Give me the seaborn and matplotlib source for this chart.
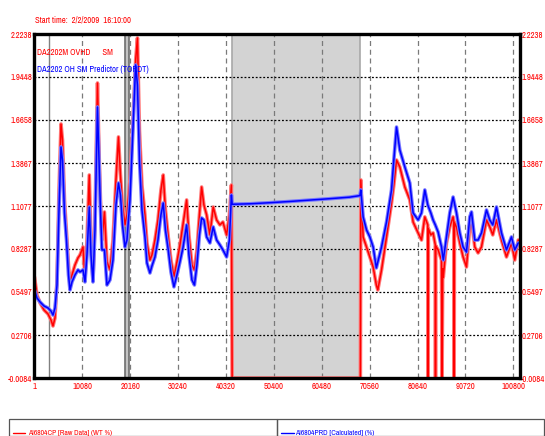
import numpy as np
import pandas as pd
import matplotlib
matplotlib.use("Agg")
import matplotlib.pyplot as plt
import seaborn as sns
from matplotlib.patches import Rectangle
from matplotlib.lines import Line2D

# ---------------- data ----------------
title_text = "Start time:  2/2/2009  16:10:00"
series_red_name = "DA2202M OVHD      SM"
series_blue_name = "DA2202 OH SM Predictor (TOPDT)"
legend_red = "AI6804CP [Raw Data] (WT %)"
legend_blue = "AI6804PRD [Calculated] (%)"

x_ticks = [1, 10080, 20160, 30240, 40320, 50400, 60480, 70560, 80640, 90720, 100800]
y_ticks = [-0.0084, 0.2706, 0.5497, 0.8287, 1.1077, 1.3867, 1.6658, 1.9448, 2.2238]
y_tick_labels = ["-0.0084", "0.2706", "0.5497", "0.8287", "1.1077", "1.3867", "1.6658", "1.9448", "2.2238"]

gap_start, gap_end = 41600, 68600          # shaded no-data period
marker_line = 2990                          # thin gray event line
marker_band = (19063, 19946)                # gray event band

red_x = [1, 526, 1157, 1999, 2840, 3472, 3892, 4313, 4734, 5155, 5576, 5891, 6312, 6733, 7154,
         7469, 7890, 8517, 9152, 9573, 10204, 10625, 11046, 11530, 11888, 12308, 12729, 13255,
         13571, 13886, 14202, 14728, 15254, 15885, 16516, 17147, 17674, 18094, 18515, 19041,
         19462, 20093, 20724, 21292, 21671, 22092, 22618, 23249, 23670, 24301, 24722, 25353,
         25984, 26616, 27099, 27562, 28152, 28720, 29351, 29982, 30613, 31244, 32023, 32507,
         33138, 33664, 34190, 34716, 35179, 35663, 36231, 36925, 37620, 38335, 39029, 39660,
         40439, 41028, 41449, 41600, 68600, 68695, 69179, 69894, 70589, 71283, 71957, 72272,
         73051, 74103, 75155, 75639, 76207, 76901, 77953, 79005, 79700, 80752, 81467, 82161,
         82792, 82856, 82919, 83424, 83908, 84370, 84412, 84455, 84960, 85675, 85801, 85930,
         86054, 86727, 87421, 88116, 88300, 88340, 88400, 88831, 89525, 90220, 90935, 91629,
         91987, 92681, 93375, 94091, 95143, 95837, 96469, 97247, 98299, 99351, 100403, 101097,
         101834]
red_y = [0.647, 0.530, 0.479, 0.433, 0.407, 0.368, 0.329, 0.381, 0.627, 1.212, 1.640, 1.536,
         1.147, 0.933, 0.725, 0.595, 0.660, 0.725, 0.771, 0.790, 0.842, 0.641, 0.887, 1.309,
         0.887, 0.628, 1.017, 1.906, 1.471, 1.147, 0.887, 1.069, 0.745, 0.693, 0.887, 1.277,
         1.556, 1.309, 1.114, 0.985, 1.050, 1.277, 1.666, 2.055, 2.198, 1.601, 1.244, 1.050,
         0.868, 0.757, 0.790, 0.887, 1.017, 1.212, 1.309, 1.082, 0.907, 0.757, 0.647, 0.745,
         0.855, 0.985, 1.147, 0.920, 0.725, 0.693, 0.823, 1.050, 1.231, 1.114, 1.050, 0.920,
         1.101, 1.017, 0.985, 1.004, 0.920, 1.050, 1.244, -0.0084, -0.0084, 1.277, 0.907,
         0.842, 0.777, 0.712, 0.595, 0.563, 0.693, 0.907, 1.127, 1.244, 1.406, 1.361, 1.231,
         1.147, 1.004, 0.933, 0.887, 1.037, 0.985, -0.0084, 0.960, 0.920, 0.933, 0.855,
         -0.0084, 0.850, 0.823, 0.757, -0.0084, 0.700, 0.647, 0.868, 0.972, 1.037, 1.000,
         -0.0084, 1.000, 0.972, 0.868, 0.777, 0.712, 0.972, 1.017, 0.842, 0.803, 0.842, 1.017,
         0.972, 0.920, 1.017, 0.887, 0.777, 0.868, 0.757, 0.887]

blue_x = [1, 526, 1157, 1999, 2840, 3472, 3892, 4313, 4734, 5155, 5576, 5891, 6312, 6733, 7154,
          7469, 7890, 8517, 9152, 9573, 10204, 10625, 11046, 11530, 11888, 12308, 12729, 13255,
          13571, 13886, 14202, 14728, 15254, 15885, 16516, 17147, 17674, 18094, 18515, 19041,
          19462, 20093, 20724, 21292, 21671, 22092, 22618, 23249, 23670, 24301, 24722, 25353,
          25984, 26616, 27099, 27562, 28152, 28720, 29351, 29982, 30613, 31244, 32023, 32507,
          33138, 33664, 34190, 34716, 35179, 35663, 36231, 36925, 37620, 38335, 39029, 39660,
          40439, 41028, 41449, 41617, 45341, 49500, 53700, 57900, 62100, 66300, 68500, 68695,
          69179, 69894, 70589, 71283, 71957, 72272, 73051, 74103, 75155, 75639, 76207, 76901,
          77953, 79005, 79700, 80752, 81467, 82161, 82792, 83424, 83908, 84370, 84960, 85675,
          86054, 86727, 87421, 88116, 88831, 89525, 90220, 90935, 91629, 91987, 92681, 93375,
          94091, 95143, 95837, 96469, 97247, 98299, 99351, 100403, 101097, 101834]
blue_y = [0.563, 0.511, 0.485, 0.459, 0.446, 0.426, 0.400, 0.446, 0.595, 1.082, 1.491, 1.406,
          1.063, 0.887, 0.660, 0.563, 0.615, 0.660, 0.693, 0.680, 0.693, 0.615, 0.790, 1.101,
          0.790, 0.615, 0.952, 1.750, 1.406, 1.082, 0.823, 0.823, 0.595, 0.628, 0.757, 1.114,
          1.257, 1.179, 0.985, 0.842, 0.887, 1.147, 1.601, 2.023, 1.893, 1.406, 1.082, 0.907,
          0.738, 0.673, 0.719, 0.777, 0.887, 1.050, 1.127, 0.952, 0.823, 0.680, 0.583, 0.660,
          0.745, 0.836, 0.985, 0.790, 0.628, 0.595, 0.725, 0.920, 1.030, 1.017, 0.907, 0.868,
          0.972, 0.887, 0.855, 0.823, 0.777, 0.887, 1.179, 1.119, 1.122, 1.129, 1.137, 1.146,
          1.155, 1.165, 1.175, 1.212, 1.037, 0.952, 0.907, 0.842, 0.706, 0.745, 0.842, 1.004,
          1.212, 1.406, 1.620, 1.471, 1.361, 1.257, 1.063, 1.017, 1.063, 1.212, 1.114, 1.063,
          1.017, 0.985, 0.939, 0.842, 0.757, 0.907, 1.063, 1.166, 1.063, 0.933, 0.842, 0.809,
          1.037, 1.069, 0.887, 0.887, 0.933, 1.082, 1.017, 0.985, 1.101, 0.933, 0.823, 0.907,
          0.823, 0.868]

red_df = pd.DataFrame({"sample": red_x, "value": red_y})
blue_df = pd.DataFrame({"sample": blue_x, "value": blue_y})

# ---------------- styling ----------------
sns.set_theme(style="white")
narrow = ["Archivo Narrow", "Roboto Condensed", "PT Sans Narrow", "DejaVu Sans"]
plt.rcParams["font.family"] = narrow

fig = plt.figure(figsize=(5.45, 4.36), dpi=100)
ax = fig.add_axes([33.7 / 545, 1 - 378 / 436, (520 - 33.7) / 545, (378 - 34) / 436])
ax.set_facecolor("white")

ax.set_xlim(-170, 102200)
ax.set_ylim(y_ticks[0], y_ticks[-1])

# background events
ax.axvspan(gap_start, gap_end, facecolor="#d3d3d3", edgecolor="#a8a8a8", lw=1.2, zorder=0)
ax.axvspan(marker_band[0], marker_band[1], facecolor="#c4c4c4", edgecolor="#6e6e6e", lw=1.2, zorder=0.5)
ax.axvline(marker_line, color="#808080", lw=1.0, zorder=0.5)

# grid
for xv in x_ticks[1:]:
    ax.axvline(xv, color="#7a7a7a", lw=0.9, ls=(0, (4, 3)), zorder=0.6)
for yv in y_ticks[1:-1]:
    ax.axhline(yv, color="black", lw=0.9, ls=(0, (1.5, 1.5)), zorder=0.6)

# series: pale halo + solid core to suggest the noisy band
sns.lineplot(data=red_df, x="sample", y="value", ax=ax, color="#ff7878", lw=2.6,
             estimator=None, sort=False, zorder=1)
sns.lineplot(data=red_df, x="sample", y="value", ax=ax, color="#ff0000", lw=1.1,
             estimator=None, sort=False, zorder=1.1)
sns.lineplot(data=blue_df, x="sample", y="value", ax=ax, color="#7878ff", lw=2.6,
             estimator=None, sort=False, zorder=1.2)
sns.lineplot(data=blue_df, x="sample", y="value", ax=ax, color="#0000ff", lw=1.1,
             estimator=None, sort=False, zorder=1.3)

ax.set_xlabel("")
ax.set_ylabel("")
ax.grid(False)

ax.set_xticks(x_ticks)
ax.set_xticklabels([str(v) for v in x_ticks])
ax.set_yticks(y_ticks)
ax.set_yticklabels(y_tick_labels)
ax.tick_params(axis="both", length=0, labelsize=6.3, labelcolor="#ff0000", pad=3)
ax.tick_params(axis="y", labelright=True, right=False, pad=1)

for side in ["left", "bottom", "top", "right"]:
    ax.spines[side].set_visible(True)
    ax.spines[side].set_color("black")
    ax.spines[side].set_linewidth(2.4)
    ax.spines[side].set_zorder(5)

# in-plot captions
ax.text(0.006, 0.947, series_red_name, transform=ax.transAxes, color="#ff0000",
        fontsize=6.2, va="center", ha="left")
ax.text(0.006, 0.898, series_blue_name, transform=ax.transAxes, color="#0000ff",
        fontsize=6.2, va="center", ha="left")

# title
fig.text(35 / 545, 1 - 20 / 436, title_text, color="#ff0000", fontsize=6.2, va="center", ha="left")

# bottom legend box
fig.patches.append(Rectangle((9.4 / 545, 0), (277 - 9.4) / 545, (436 - 419.2) / 436,
                             transform=fig.transFigure, fill=False, edgecolor="#555555", lw=0.9))
fig.patches.append(Rectangle((277 / 545, 0), (544 - 277) / 545, (436 - 419.2) / 436,
                             transform=fig.transFigure, fill=False, edgecolor="#555555", lw=0.9))
ly = 1 - 432.5 / 436
fig.lines.append(Line2D([12.9 / 545, 25.4 / 545], [ly, ly], transform=fig.transFigure,
                        color="#ff0000", lw=1))
fig.text(27.8 / 545, ly, legend_red, color="#ff0000", fontsize=5.5, va="center", ha="left")
fig.lines.append(Line2D([281 / 545, 293.7 / 545], [ly, ly], transform=fig.transFigure,
                        color="#0000ff", lw=1))
fig.text(295.4 / 545, ly, legend_blue, color="#0000ff", fontsize=5.5, va="center", ha="left")

fig.savefig("out.png", dpi=100)
